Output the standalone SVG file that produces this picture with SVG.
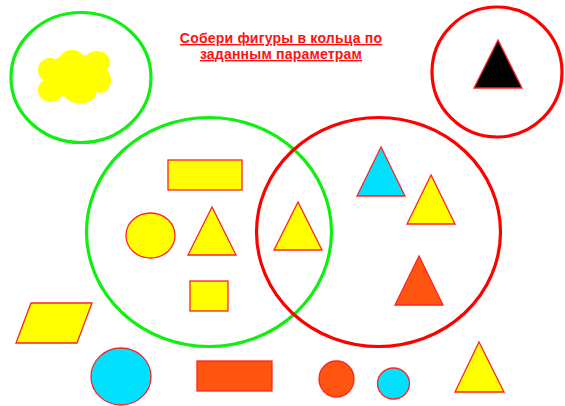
<svg xmlns="http://www.w3.org/2000/svg" width="565" height="406" viewBox="0 0 565 406">
<style>
.ring-g{fill:none;stroke:#11ee11;stroke-width:3.2}
.ring-r{fill:none;stroke:#ff0000;stroke-width:3.2}
.sh{stroke:#ff2222;stroke-width:1.3;stroke-linejoin:miter}
.y{fill:#ffff00}
.c{fill:#00e1ff}
.o{fill:#ff5511}
.k{fill:#000000}
.title{font-family:"Liberation Sans",Arial,sans-serif;font-size:14px;font-weight:bold;fill:#ff1111;text-decoration:underline;text-anchor:middle;letter-spacing:0.2px}
</style>
<rect width="565" height="406" fill="#ffffff"/>
<g id="title">
<text class="title" x="281" y="43">Собери фигуры в кольца по</text>
<text class="title" x="281" y="59">заданным параметрам</text>
</g>
<g id="ring-small-green">
<ellipse class="ring-g" cx="81" cy="77.5" rx="70" ry="65"/>
</g>
<g id="cloud" fill="#ffff00">
<ellipse cx="75" cy="76" rx="30" ry="22"/>
<ellipse cx="72" cy="64" rx="14" ry="14"/>
<ellipse cx="97" cy="62" rx="13" ry="11"/>
<ellipse cx="50" cy="70" rx="12" ry="12"/>
<ellipse cx="51" cy="90" rx="13" ry="12"/>
<ellipse cx="80" cy="93" rx="16" ry="10.5"/>
<ellipse cx="100" cy="80" rx="11" ry="13"/>
</g>
<g id="ring-small-red">
<ellipse class="ring-r" cx="497" cy="72" rx="65" ry="65"/>
</g>
<g id="tri-black">
<polygon class="sh k" points="498,40 474,88 522,88"/>
</g>
<g id="ring-big-green">
<ellipse class="ring-g" cx="209" cy="232" rx="122.5" ry="114.5"/>
</g>
<g id="ring-big-red">
<ellipse class="ring-r" cx="378.5" cy="232" rx="122" ry="114.5"/>
</g>
<g id="rect-yellow"><rect class="sh y" x="168" y="160" width="74" height="30"/></g>
<g id="ellipse-yellow"><ellipse class="sh y" cx="150.5" cy="235.5" rx="24.5" ry="22.5"/></g>
<g id="tri-yellow-1"><polygon class="sh y" points="212,207 188,255 236,255"/></g>
<g id="square-yellow"><rect class="sh y" x="190" y="281" width="38" height="30"/></g>
<g id="tri-yellow-2"><polygon class="sh y" points="298,202 274,250 322,250"/></g>
<g id="tri-cyan"><polygon class="sh c" points="381,147 357,196 405,196"/></g>
<g id="tri-yellow-3"><polygon class="sh y" points="431,175 407,224 455,224"/></g>
<g id="tri-orange"><polygon class="sh o" points="419,256 395,305 443,305"/></g>
<g id="parallelogram-yellow"><polygon class="sh y" points="31,303 92,303 77,343 16,343"/></g>
<g id="circle-cyan-big"><ellipse class="sh c" cx="121" cy="376.5" rx="30" ry="28.5"/></g>
<g id="rect-orange"><rect class="sh o" x="197" y="361" width="75" height="30"/></g>
<g id="circle-orange"><ellipse class="sh o" cx="336.5" cy="379" rx="17.5" ry="18"/></g>
<g id="circle-cyan-small"><ellipse class="sh c" cx="393.5" cy="383.5" rx="16" ry="15.5"/></g>
<g id="tri-yellow-4"><polygon class="sh y" points="479,342 455,392 504,392"/></g>
<g id="connectors"></g>
</svg>
